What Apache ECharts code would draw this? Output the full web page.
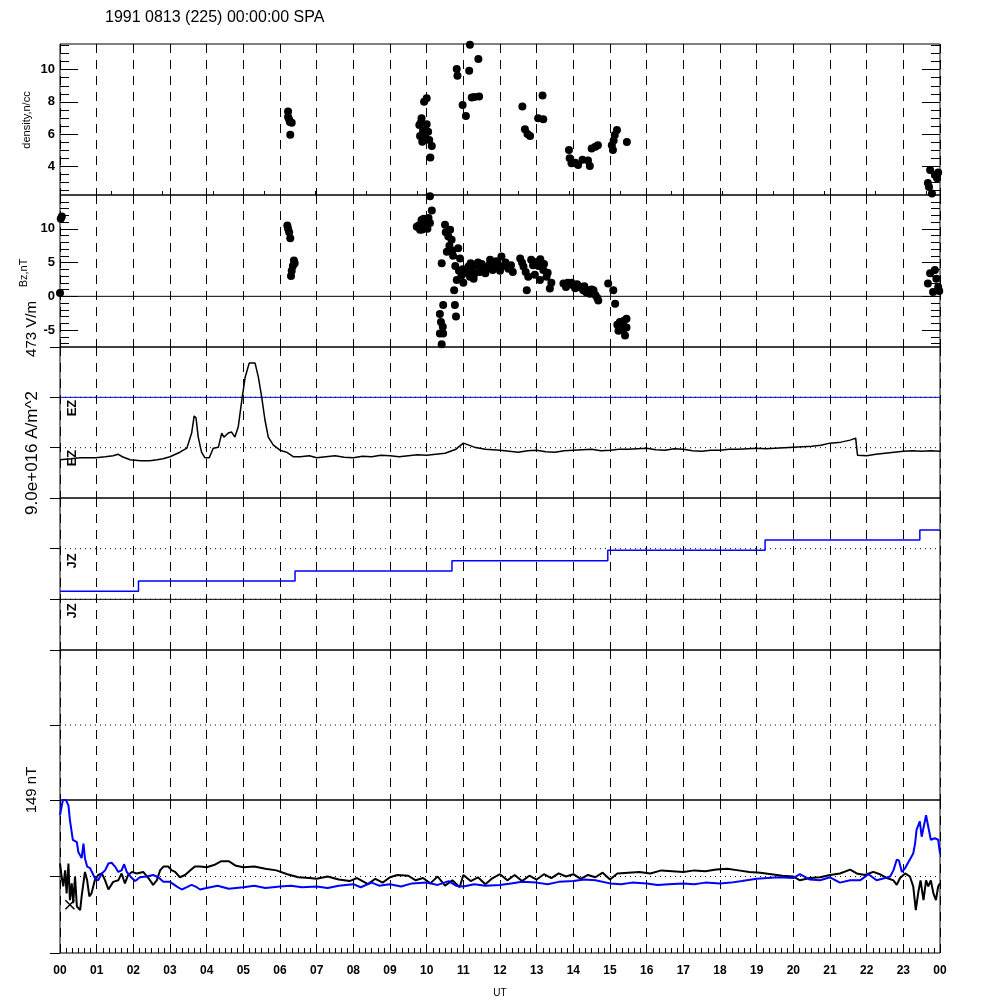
<!DOCTYPE html>
<html>
<head>
<meta charset="utf-8">
<script src="https://cdn.jsdelivr.net/npm/echarts@6/dist/echarts.min.js"></script>
<style>
html, body { margin: 0; padding: 0; background: #fff; }
#chart { width: 1000px; height: 1000px; }
</style>
</head>
<body>
<div id="chart"></div>
<script>
// x labels, one per hour 0..24
const hourLabels = ['00','01','02','03','04','05','06','07','08','09','10','11','12',
  '13','14','15','16','17','18','19','20','21','22','23','00']

const densityTicks = [4, 6, 8, 10]
const densityMinor = [2.5,3,3.5,4.5,5,5.5,6.5,7,7.5,8.5,9,9.5,10.5,11,11.5]
const bzTicks = [-5, 0, 5, 10]
const bzMinor = [-7,-6,-4,-3,-2,-1,1,2,3,4,6,7,8,9,11,12,13,14]

// density n/cc  [UT hour, value]
const density = [
  [6.22,7.4],[6.22,7.05],[6.27,6.75],[6.32,6.7],[6.25,6.9],[6.28,5.95],
  [10.0,8.23],[9.93,8.0],[9.86,6.98],[9.8,6.56],[9.84,6.7],[10.0,6.6],[10.04,6.14],[9.82,5.87],
  [9.88,5.52],[10.07,5.62],[10.14,5.25],[10.1,4.54],[9.9,6.2],[9.95,5.9],
  [10.82,10.04],[10.84,9.63],[11.16,9.94],[11.18,11.56],[11.41,10.67],[10.98,7.81],[11.07,7.12],
  [11.23,8.27],[11.3,8.3],[11.43,8.33],
  [12.61,7.71],[12.68,6.29],[12.75,6.0],[12.82,5.87],[13.16,8.4],[13.04,6.98],[13.18,6.92],
  [13.88,5.0],[13.9,4.48],[13.95,4.17],[14.05,4.2],[14.13,4.06],[14.25,4.4],[14.45,4.0],[14.4,4.35],
  [14.5,5.1],[14.6,5.2],[14.67,5.3],
  [15.05,5.3],[15.08,5.0],[15.13,5.94],[15.19,6.25],[15.1,5.6],[15.46,5.5],
  [23.73,3.75],[23.86,3.44],[23.67,2.94],[23.92,3.25],[23.78,2.3],[23.95,3.6],[23.7,2.7]
]

// Bz nT  [UT hour, value]
const bz = [
  [0.02,11.5],[0.05,11.8],[0.0,0.5],
  [6.2,10.5],[6.22,10.0],[6.25,9.5],[6.28,8.6],[6.38,5.3],[6.35,4.5],[6.32,3.8],[6.3,3.0],[6.4,4.9],
  [9.73,10.3],[9.82,9.85],[9.86,11.3],[9.9,10.6],[10.0,11.1],[10.09,10.85],[9.95,10.2],[10.05,11.6],
  [10.09,14.8],[10.14,12.7],[9.78,10.5],[9.92,11.5],[10.02,10.0],[9.88,9.9],
  [10.5,10.6],[10.64,9.85],[10.59,8.85],[10.68,8.36],[10.55,6.6],[10.86,7.1],[10.91,5.6],[10.41,4.9],
  [10.82,2.4],[10.95,3.1],[10.7,6.8],[10.52,9.5],[10.62,7.5],[10.72,6.0],[10.78,4.5],[10.88,3.8],
  [11.14,4.4],[11.36,4.6],[11.64,4.1],[11.73,5.4],[11.95,4.4],[12.04,5.9],[12.23,4.1],[11.45,3.6],
  [11.18,2.9],[11.25,4.0],[11.5,4.8],[11.85,4.7],[12.1,4.5],[11.05,3.5],
  [11.1,3.8],[11.2,4.9],[11.3,3.3],[11.4,5.0],[11.55,4.2],[11.6,3.4],[11.7,4.6],[11.8,3.9],
  [11.9,5.2],[12.0,3.8],[12.15,5.0],[12.3,4.6],[12.35,3.6],[11.28,2.6],[11.0,2.0],[10.98,4.0],
  [12.55,5.6],[12.64,4.4],[12.77,2.9],[12.73,0.9],[13.0,5.1],[13.18,3.9],[13.27,2.9],[13.36,1.15],
  [13.09,2.4],[12.9,4.6],[13.1,5.5],
  [12.6,5.0],[12.7,3.6],[12.85,5.4],[12.95,3.2],[13.05,4.5],[13.2,4.8],[13.3,3.5],[13.4,2.0],
  [13.73,1.9],[13.85,2.0],[14.0,1.6],[14.1,1.8],[14.27,0.9],[14.2,1.3],[14.45,0.4],[14.55,0.9],
  [14.68,-0.6],[14.95,1.9],[15.09,0.9],[15.14,-1.1],
  [13.8,1.4],[13.95,2.0],[14.05,1.2],[14.15,1.5],[14.3,1.5],[14.35,0.6],[14.5,1.0],[14.6,0.2],
  [14.65,-0.2],[14.4,0.9],
  [15.27,-3.8],[15.23,-5.1],[15.45,-4.6],[15.41,-5.8],[15.45,-3.3],[15.3,-4.4],
  [15.35,-5.0],[15.2,-4.2],[15.38,-3.6],
  [10.45,-1.3],[10.36,-2.6],[10.39,-3.8],[10.36,-5.5],[10.45,-5.5],[10.41,-7.1],[10.75,0.9],
  [10.77,-1.3],[10.8,-3.0],[10.44,-4.5],
  [23.73,3.4],[23.86,3.9],[23.67,1.9],[23.81,0.65],[23.95,1.4],[23.9,2.6],[23.98,0.8]
]

// EZ trace, units of one row (473 V/m)
const ez = [
  [0,-0.24],[0.3,-0.22],[0.55,-0.2],[0.8,-0.2],[0.98,-0.2],[1.23,-0.18],[1.45,-0.16],[1.58,-0.13],
  [1.7,-0.18],[1.91,-0.24],[2.2,-0.26],[2.45,-0.26],[2.65,-0.24],[2.81,-0.22],[3.0,-0.18],
  [3.27,-0.09],[3.46,-0.01],[3.59,0.29],[3.66,0.63],[3.71,0.59],[3.77,0.21],[3.86,-0.09],
  [3.95,-0.2],[4.07,-0.2],[4.18,-0.01],[4.32,0.01],[4.41,0.29],[4.47,0.21],[4.59,0.29],[4.68,0.31],
  [4.77,0.21],[4.86,0.41],[4.96,0.95],[5.05,1.4],[5.16,1.68],[5.32,1.68],[5.41,1.4],[5.5,1.01],
  [5.59,0.55],[5.68,0.21],[5.82,0.05],[6.0,-0.05],[6.18,-0.09],[6.36,-0.18],[6.55,-0.18],
  [6.8,-0.16],[7.0,-0.2],[7.25,-0.18],[7.5,-0.16],[7.75,-0.19],[8.0,-0.2],[8.25,-0.17],[8.5,-0.18],
  [8.75,-0.15],[9.0,-0.16],[9.25,-0.18],[9.5,-0.16],[9.75,-0.14],[10.0,-0.15],[10.25,-0.13],
  [10.5,-0.11],[10.8,-0.03],[11.0,0.09],[11.15,0.05],[11.3,0.01],[11.6,-0.03],[12.0,-0.05],
  [12.25,-0.07],[12.5,-0.09],[12.75,-0.06],[13.0,-0.05],[13.25,-0.08],[13.5,-0.09],[13.75,-0.06],
  [14.0,-0.05],[14.25,-0.04],[14.5,-0.03],[14.75,-0.06],[15.0,-0.05],[15.25,-0.03],[15.5,-0.03],
  [15.75,-0.02],[16.0,-0.01],[16.25,-0.04],[16.5,-0.05],[16.75,-0.02],[17.0,-0.03],[17.25,-0.06],
  [17.5,-0.07],[17.75,-0.05],[18.0,-0.05],[18.25,-0.03],[18.5,-0.03],[18.75,-0.02],[19.0,-0.01],
  [19.25,-0.02],[19.5,-0.01],[19.75,0.0],[20.0,0.01],[20.25,0.02],[20.5,0.03],[20.75,0.05],
  [21.0,0.09],[21.3,0.11],[21.55,0.15],[21.7,0.19],[21.75,-0.15],[22.0,-0.16],[22.25,-0.13],
  [22.5,-0.11],[22.75,-0.09],[23.0,-0.07],[23.25,-0.06],[23.5,-0.07],[23.75,-0.06],[24.0,-0.07]
]

// JZ steps (step at end)
const jz = [[0,0.16],[2.14,0.36],[6.41,0.56],[10.69,0.76],[14.94,0.97],[19.23,1.17],[23.45,1.37],[24,1.37]]

// 149 nT panel, black and blue traces
const magBlack = [
  [0,0.17],[0.05,-0.02],[0.09,-0.13],[0.14,0.08],[0.18,-0.22],[0.23,0.17],[0.27,-0.31],[0.32,-0.09],
  [0.36,-0.35],[0.41,0.0],[0.46,-0.39],[0.55,-0.44],[0.59,-0.26],[0.68,0.06],[0.74,-0.05],
  [0.8,-0.26],[0.86,-0.22],[0.95,-0.05],[1.04,0.02],[1.14,0.04],[1.23,-0.05],[1.32,-0.17],
  [1.45,-0.07],[1.59,-0.05],[1.68,0.04],[1.77,-0.09],[1.86,0.02],[1.96,0.06],[2.09,0.04],
  [2.27,0.06],[2.41,-0.02],[2.54,-0.11],[2.64,-0.05],[2.73,0.08],[2.82,0.13],[2.95,0.13],
  [3.05,0.08],[3.14,0.06],[3.27,-0.01],[3.41,0.02],[3.55,0.08],[3.68,0.13],[3.82,0.13],
  [4.0,0.12],[4.2,0.15],[4.4,0.2],[4.6,0.2],[4.8,0.14],[5.0,0.12],[5.3,0.13],[5.6,0.1],[5.9,0.08],
  [6.2,0.03],[6.5,-0.01],[6.8,-0.02],[7.0,-0.03],[7.3,0.0],[7.6,-0.04],[7.9,-0.06],[8.1,-0.02],
  [8.4,-0.1],[8.6,-0.03],[8.8,-0.08],[9.0,-0.01],[9.2,0.02],[9.5,0.01],[9.7,-0.05],[9.9,-0.02],
  [10.1,-0.09],[10.3,0.0],[10.5,-0.12],[10.7,-0.05],[10.9,-0.14],[11.0,0.02],[11.2,-0.06],
  [11.4,-0.01],[11.6,-0.1],[11.8,-0.02],[12.0,0.03],[12.2,-0.05],[12.4,0.02],[12.6,-0.06],
  [12.8,0.01],[13.0,-0.04],[13.2,0.03],[13.4,-0.02],[13.6,0.04],[13.8,0.0],[14.0,0.03],
  [14.2,-0.03],[14.4,0.02],[14.6,-0.01],[14.8,0.05],[15.0,-0.04],[15.2,0.04],[15.5,0.05],
  [15.8,0.06],[16.1,0.04],[16.4,0.08],[16.7,0.07],[17.0,0.06],[17.3,0.08],[17.6,0.07],[17.9,0.09],
  [18.2,0.1],[18.5,0.08],[18.8,0.06],[19.1,0.05],[19.4,0.03],[19.7,0.01],[20.0,0.0],
  [20.18,-0.05],[20.45,-0.02],[20.73,-0.01],[21.0,0.02],[21.27,0.04],[21.55,0.09],[21.73,0.04],
  [21.95,0.02],[22.18,0.06],[22.36,0.03],[22.55,-0.02],[22.73,-0.05],[22.82,-0.11],[22.91,-0.02],
  [23.05,0.04],[23.18,0.0],[23.27,-0.13],[23.34,-0.44],[23.41,-0.2],[23.47,-0.05],[23.55,-0.31],
  [23.62,-0.05],[23.68,-0.13],[23.75,-0.05],[23.82,-0.22],[23.89,-0.31],[23.95,-0.13],[24,-0.09]
]
const magBlue = [
  [0,0.8],[0.05,0.93],[0.08,1.0],[0.16,1.0],[0.23,0.93],[0.27,0.74],[0.35,0.48],[0.46,0.45],
  [0.5,0.32],[0.59,0.24],[0.64,0.43],[0.68,0.24],[0.74,0.13],[0.82,0.11],[0.95,-0.02],[1.04,-0.05],
  [1.14,0.04],[1.23,0.08],[1.32,0.17],[1.41,0.18],[1.5,0.13],[1.59,0.06],[1.68,0.08],[1.75,0.16],
  [1.82,0.06],[1.96,-0.02],[2.05,-0.06],[2.18,-0.01],[2.36,0.0],[2.54,0.02],[2.68,-0.01],
  [2.82,-0.07],[3.0,-0.07],[3.18,-0.13],[3.32,-0.17],[3.46,-0.14],[3.59,-0.11],[3.73,-0.14],
  [3.82,-0.17],[4.0,-0.15],[4.3,-0.12],[4.6,-0.16],[5.0,-0.14],[5.3,-0.12],[5.6,-0.15],[6.0,-0.13],
  [6.3,-0.12],[6.6,-0.14],[7.0,-0.13],[7.3,-0.15],[7.6,-0.12],[8.0,-0.1],[8.2,-0.14],[8.5,-0.08],
  [8.7,-0.12],[9.0,-0.1],[9.3,-0.13],[9.6,-0.09],[10.0,-0.08],[10.3,-0.11],[10.6,-0.06],
  [10.8,-0.12],[11.0,-0.13],[11.3,-0.1],[11.6,-0.12],[12.0,-0.11],[12.3,-0.09],[12.6,-0.07],
  [13.0,-0.08],[13.3,-0.1],[13.6,-0.07],[14.0,-0.06],[14.3,-0.04],[14.6,-0.05],[15.0,-0.09],
  [15.3,-0.1],[15.6,-0.08],[16.0,-0.09],[16.3,-0.11],[16.6,-0.1],[17.0,-0.09],[17.3,-0.1],
  [17.6,-0.08],[18.0,-0.09],[18.3,-0.08],[18.6,-0.06],[19.0,-0.03],[19.3,-0.02],[19.6,-0.01],
  [20.0,-0.02],[20.18,0.03],[20.45,-0.04],[20.73,-0.05],[21.0,-0.01],[21.27,-0.08],[21.55,-0.05],
  [21.82,-0.05],[22.05,0.03],[22.27,-0.05],[22.5,-0.02],[22.64,0.0],[22.73,0.08],[22.82,0.22],
  [22.88,0.21],[22.96,0.06],[23.05,0.11],[23.14,0.19],[23.27,0.3],[23.32,0.43],[23.36,0.61],
  [23.45,0.72],[23.5,0.52],[23.62,0.8],[23.68,0.65],[23.75,0.48],[23.86,0.5],[23.95,0.48],[24,0.3]
]
const magMark = [[0.27,-0.37]]

const FONT = 'Liberation Sans'
const DOT = [1, 4]
const DASH = [9, 7]

const grids = [
  { top: 44, height: 151 },
  { top: 195, height: 152 },
  { top: 347, height: 151 },
  { top: 498, height: 152 },
  { top: 650, height: 150 },
  { top: 800, height: 153 }
].map(g => Object.assign({
  left: 60, right: 60, show: true, borderColor: '#000', borderWidth: 1,
  backgroundColor: 'transparent', containLabel: false, outerBoundsMode: 'none'
}, g))

function hourAxis (gridIndex, extra) {
  return Object.assign({
    type: 'value', gridIndex, min: 0, max: 24, interval: 1,
    axisLine: { show: false, onZero: false }, axisTick: { show: false }, axisLabel: { show: false },
    splitLine: { show: true, lineStyle: { color: '#000', type: DASH, width: 1 } }
  }, extra || {})
}

function tickAxis (gridIndex, pos, min, max, ticks, len, labels) {
  return {
    type: 'value', gridIndex, position: pos, min, max,
    axisLine: { show: false, onZero: false },
    splitLine: { show: false },
    axisTick: { show: true, inside: true, length: len, customValues: ticks, lineStyle: { color: '#000' } },
    axisLabel: labels ? {
      show: true, customValues: ticks, margin: 5, color: '#000',
      fontFamily: FONT, fontSize: 13, fontWeight: 'bold'
    } : { show: false }
  }
}

function rowAxis (gridIndex, min, max) {
  return {
    type: 'value', gridIndex, position: 'left', min, max, interval: 1,
    axisLine: { show: false, onZero: false }, splitLine: { show: false }, axisLabel: { show: false },
    axisTick: { show: true, inside: false, length: 10, lineStyle: { color: '#000' } }
  }
}

const xAxis = [
  hourAxis(0),
  { type: 'value', gridIndex: 0, min: 0, max: 24, interval: 1.39, position: 'bottom',
    axisLine: { show: false, onZero: false }, splitLine: { show: false }, axisLabel: { show: false },
    axisTick: { show: true, inside: true, length: 4, lineStyle: { color: '#000' } } },
  hourAxis(1),
  hourAxis(2),
  hourAxis(3),
  hourAxis(4),
  hourAxis(5, {
    name: 'UT', nameLocation: 'middle', nameGap: 35,
    nameTextStyle: { fontFamily: FONT, fontSize: 10, color: '#000' },
    axisTick: { show: true, inside: true, length: 8, lineStyle: { color: '#000' } },
    minorTick: { show: true, splitNumber: 6, length: 5, lineStyle: { color: '#000' } },
    axisLabel: {
      show: true, margin: 12, color: '#000', fontFamily: FONT, fontSize: 12, fontWeight: 'bold',
      showMinLabel: true, showMaxLabel: true,
      formatter: v => hourLabels[Math.round(v)]
    }
  })
]

const yAxis = [
  tickAxis(0, 'left', 2.2, 11.6, densityTicks, 18, true),
  tickAxis(0, 'left', 2.2, 11.6, densityMinor, 9, false),
  tickAxis(0, 'right', 2.2, 11.6, densityTicks, 18, false),
  tickAxis(0, 'right', 2.2, 11.6, densityMinor, 9, false),
  tickAxis(1, 'left', -7.5, 15, bzTicks, 18, true),
  tickAxis(1, 'left', -7.5, 15, bzMinor, 9, false),
  tickAxis(1, 'right', -7.5, 15, bzTicks, 18, false),
  tickAxis(1, 'right', -7.5, 15, bzMinor, 9, false),
  rowAxis(2, -1, 2),
  rowAxis(3, -1, 2),
  rowAxis(4, -1, 1),
  rowAxis(5, -1, 1)
]

function refLine (xi, yi, v, color, type, z) {
  return {
    type: 'line', xAxisIndex: xi, yAxisIndex: yi, data: [[0, v], [24, v]],
    symbol: 'none', silent: true, z: z || 2,
    lineStyle: { color, width: 1, type }
  }
}

const dotStyle = { color: '#000', opacity: 1 }

const series = [
  { type: 'scatter', xAxisIndex: 0, yAxisIndex: 0, data: density, symbolSize: 8, itemStyle: dotStyle },
  refLine(2, 4, 0, '#000', 'solid'),
  { type: 'scatter', xAxisIndex: 2, yAxisIndex: 4, data: bz, symbolSize: 8, itemStyle: dotStyle },
  refLine(3, 8, 1, '#0000ff', 'solid', 1),
  refLine(3, 8, 1, '#000', DOT, 3),
  refLine(3, 8, 0, '#000', DOT, 3),
  { type: 'line', xAxisIndex: 3, yAxisIndex: 8, data: ez, symbol: 'none', z: 4,
    lineStyle: { color: '#000', width: 1.5 } },
  refLine(4, 9, 1, '#000', DOT, 3),
  refLine(4, 9, 0, '#000', 'solid', 3),
  refLine(4, 9, 0, '#000', DOT, 3),
  { type: 'line', xAxisIndex: 4, yAxisIndex: 9, data: jz, step: 'end', symbol: 'none', z: 4,
    lineStyle: { color: '#0000ff', width: 1.5 } },
  refLine(5, 10, 0, '#000', DOT, 3),
  refLine(6, 11, 0, '#000', DOT, 3),
  { type: 'line', xAxisIndex: 6, yAxisIndex: 11, data: magBlack, symbol: 'none', z: 4,
    lineStyle: { color: '#000', width: 2 } },
  { type: 'line', xAxisIndex: 6, yAxisIndex: 11, data: magBlue, symbol: 'none', z: 5,
    lineStyle: { color: '#0000ff', width: 2 } },
  { type: 'scatter', xAxisIndex: 6, yAxisIndex: 11, data: magMark, z: 6,
    symbol: 'path://M0 0L10 10M10 0L0 10', symbolSize: 9,
    itemStyle: { color: 'none', borderColor: '#000', borderWidth: 1.5, opacity: 1 } }
]

function vText (x, y, text, size, bold) {
  return {
    type: 'text', x, y, rotation: Math.PI / 2, silent: true,
    style: {
      text, fill: '#000', align: 'center', verticalAlign: 'middle',
      font: (bold ? 'bold ' : '') + size + 'px "' + FONT + '"'
    }
  }
}

const graphic = [
  vText(27, 120, 'density,n/cc', 11),
  vText(24, 273, 'Bz,nT', 11),
  vText(32, 329, '473 V/m', 15),
  vText(32, 453, '9.0e+016 A/m^2', 17),
  vText(32, 790, '149 nT', 15),
  vText(72, 408, 'EZ', 13, true),
  vText(72, 458, 'EZ', 13, true),
  vText(72, 561, 'JZ', 13, true),
  vText(72, 611, 'JZ', 13, true)
]

const chart = echarts.init(document.getElementById('chart'))
chart.setOption({
  animation: false,
  backgroundColor: '#fff',
  title: {
    text: '1991 0813 (225) 00:00:00 SPA', left: 100, top: 5,
    textStyle: { fontFamily: FONT, fontSize: 16, fontWeight: 'normal', color: '#000' }
  },
  grid: grids,
  xAxis,
  yAxis,
  series,
  graphic
})
</script>
</body>
</html>
